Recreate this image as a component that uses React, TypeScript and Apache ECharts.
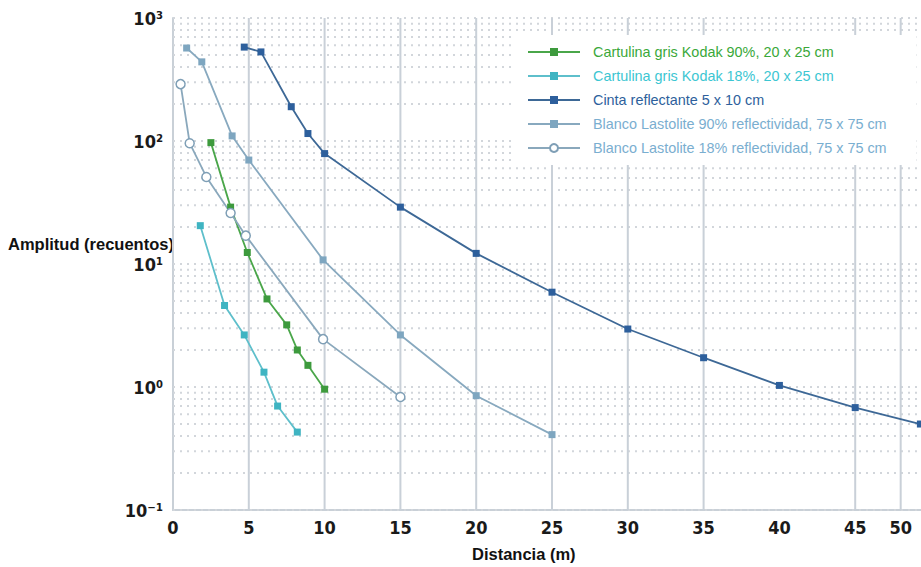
import React, { useEffect, useRef } from "react";
import * as echarts from "echarts";

// ---- Data ----
const SERIES_NAMES = [
  "Cartulina gris Kodak 90%, 20 x 25 cm",
  "Cartulina gris Kodak 18%, 20 x 25 cm",
  "Cinta reflectante 5 x 10 cm",
  "Blanco Lastolite 90% reflectividad, 75 x 75 cm",
  "Blanco Lastolite 18% reflectividad, 75 x 75 cm",
];

const GREEN_X = [2.5, 3.8, 4.9, 6.2, 7.5, 8.2, 8.9, 10];
const GREEN_Y = [97, 29, 12.4, 5.2, 3.2, 2.0, 1.5, 0.96];

const CYAN_X = [1.8, 3.4, 4.7, 6.0, 6.9, 8.2];
const CYAN_Y = [20.5, 4.6, 2.65, 1.32, 0.7, 0.43];

const BLUE_X = [4.7, 5.8, 7.8, 8.9, 10, 15, 20, 25, 30, 35, 40, 45, 49.3];
const BLUE_Y = [580, 530, 190, 115, 79, 29, 12.2, 5.9, 2.96, 1.73, 1.03, 0.68, 0.5];

const L90_X = [0.9, 1.9, 3.9, 5, 9.9, 15, 20, 25];
const L90_Y = [570, 440, 110, 70, 10.8, 2.65, 0.85, 0.41];

const L18_X = [0.5, 1.1, 2.2, 3.8, 4.8, 9.9, 15];
const L18_Y = [290, 96, 51, 26, 17, 2.45, 0.83];

// Tick labels
const X_TICK_VALUES = [0, 5, 10, 15, 20, 25, 30, 35, 40, 45, 48];
const X_TICK_LABELS = ["0", "5", "10", "15", "20", "25", "30", "35", "40", "45", "50"];
const X_GRID_VALUES = [5, 10, 15, 20, 25, 30, 35, 45, 48];
const Y_TICK_LABELS: Record<string, string> = {
  "0.1": "10\u207B\u00B9",
  "1": "10\u2070",
  "10": "10\u00B9",
  "100": "10\u00B2",
  "1000": "10\u00B3",
};
const Y_MANTISSAS = [1, 2, 3, 4, 5, 6, 7, 8, 9];
const Y_DECADES = [0.1, 1, 10, 100];

const COLORS = {
  green: { line: "#4aa64a", mark: "#3d9a3d", text: "#3aa83a" },
  cyan: { line: "#5ebfcb", mark: "#3fb4c2", text: "#3cc6d2" },
  blue: { line: "#3d6896", mark: "#2d5f9c", text: "#2e5f9c" },
  l90: { line: "#88a9bf", mark: "#7ea6c0", text: "#7aaed0" },
  l18: { line: "#8aa8bc", mark: "#7f9fb6", text: "#7aaed0" },
};

const AXIS_FONT = '"Liberation Sans Narrow", "DejaVu Sans Condensed", "Liberation Sans", Arial, sans-serif';
const FONT = '"Liberation Sans", Arial, sans-serif';

function zip(xs: number[], ys: number[]) {
  return xs.map((x, i) => [x, ys[i]]);
}

export default function App() {
  const ref = useRef<HTMLDivElement>(null);

  useEffect(() => {
    if (!ref.current) return;
    const chart = echarts.init(ref.current, undefined, { renderer: "svg" });

    // grid line definitions: [kind, value]  kind 0 = horizontal dotted, 1 = vertical solid
    const gridData: number[][] = [];
    Y_DECADES.forEach((d) =>
      Y_MANTISSAS.forEach((m) => gridData.push([0, +(m * d).toPrecision(3)]))
    );
    gridData.push([0, 1000]);
    X_GRID_VALUES.forEach((v) => gridData.push([1, v]));

    const mkSeries = (
      name: string,
      xs: number[],
      ys: number[],
      c: { line: string; mark: string },
      hollow = false
    ) => ({
      name,
      type: "line",
      z: 3,
      data: zip(xs, ys),
      symbol: hollow ? "circle" : "rect",
      symbolSize: hollow ? 9 : 7,
      showSymbol: true,
      lineStyle: { color: c.line, width: 1.8, type: "solid" },
      itemStyle: hollow
        ? { color: "#ffffff", borderColor: c.mark, borderWidth: 1.5, borderType: "solid" }
        : { color: c.mark, borderWidth: 0 },
      emphasis: { disabled: true },
    });

    const option: any = {
      animation: false,
      backgroundColor: "#ffffff",
      grid: { left: 173, right: 0, top: 18, bottom: 57, containLabel: false },
      xAxis: {
        type: "value",
        min: 0,
        max: 49.34,
        interval: 5,
        axisLine: { show: true, lineStyle: { color: "#c9d0d7", width: 2 } },
        axisTick: { show: false },
        splitLine: { show: false },
        axisLabel: {
          customValues: X_TICK_VALUES,
          formatter: (v: number) => {
            const i = X_TICK_VALUES.findIndex((t) => Math.abs(t - v) < 1e-6);
            return i >= 0 ? X_TICK_LABELS[i] : "";
          },
          margin: 8,
          color: "#1a1a1a",
          fontWeight: "bold",
          fontSize: 18,
          fontFamily: AXIS_FONT,
        },
      },
      yAxis: {
        type: "log",
        logBase: 10,
        min: 0.1,
        max: 1000,
        axisLine: { show: true, lineStyle: { color: "#c9d0d7", width: 2 } },
        axisTick: { show: false },
        splitLine: { show: false },
        minorTick: { show: false },
        axisLabel: {
          formatter: (v: number) => Y_TICK_LABELS[String(+v.toPrecision(3))] ?? "",
          margin: 10,
          color: "#1a1a1a",
          fontWeight: "bold",
          fontSize: 18,
          fontFamily: AXIS_FONT,
        },
      },
      legend: {
        orient: "vertical",
        left: 512,
        top: 35,
        padding: [10, 30, 10, 15],
        backgroundColor: "#ffffff",
        itemWidth: 52,
        itemHeight: 10,
        itemGap: 10,
        selectedMode: false,
        textStyle: { fontSize: 14.4, fontFamily: FONT, lineHeight: 14, padding: [0, 0, 0, 8] },
        data: [
          { name: SERIES_NAMES[0], textStyle: { color: COLORS.green.text } },
          { name: SERIES_NAMES[1], textStyle: { color: COLORS.cyan.text } },
          { name: SERIES_NAMES[2], textStyle: { color: COLORS.blue.text } },
          { name: SERIES_NAMES[3], textStyle: { color: COLORS.l90.text } },
          { name: SERIES_NAMES[4], textStyle: { color: COLORS.l18.text } },
        ],
      },
      graphic: [
        {
          type: "text",
          left: 8,
          top: 235,
          style: {
            text: "Amplitud (recuentos)",
            fontSize: 16.5,
            fontWeight: "bold",
            fontFamily: FONT,
            fill: "#111111",
          },
        },
        {
          type: "text",
          left: 472,
          top: 545,
          style: {
            text: "Distancia (m)",
            fontSize: 16.5,
            fontWeight: "bold",
            fontFamily: FONT,
            fill: "#111111",
          },
        },
      ],
      series: [
        {
          name: "__grid",
          type: "custom",
          z: 1,
          silent: true,
          clip: false,
          data: gridData,
          encode: { x: -1, y: -1 },
          renderItem: (params: any, api: any) => {
            const kind = api.value(0);
            const v = api.value(1);
            const cs = params.coordSys;
            if (kind === 0) {
              const p = api.coord([0, v]);
              return {
                type: "line",
                shape: { x1: cs.x, y1: p[1], x2: cs.x + cs.width, y2: p[1] },
                style: { stroke: "#d2d6db", lineWidth: 2, lineDash: [2, 5] },
              };
            }
            const p = api.coord([v, 1]);
            return {
              type: "line",
              shape: { x1: p[0], y1: cs.y, x2: p[0], y2: cs.y + cs.height },
              style: { stroke: "#c9d0d8", lineWidth: 2 },
            };
          },
        },
        mkSeries(SERIES_NAMES[0], GREEN_X, GREEN_Y, COLORS.green),
        mkSeries(SERIES_NAMES[1], CYAN_X, CYAN_Y, COLORS.cyan),
        mkSeries(SERIES_NAMES[2], BLUE_X, BLUE_Y, COLORS.blue),
        mkSeries(SERIES_NAMES[3], L90_X, L90_Y, COLORS.l90),
        mkSeries(SERIES_NAMES[4], L18_X, L18_Y, COLORS.l18, true),
      ],
    };

    chart.setOption(option);
    return () => chart.dispose();
  }, []);

  return (
    <div
      ref={ref}
      style={{ position: "fixed", left: 0, top: 0, width: 921, height: 567, background: "#fff" }}
    />
  );
}
